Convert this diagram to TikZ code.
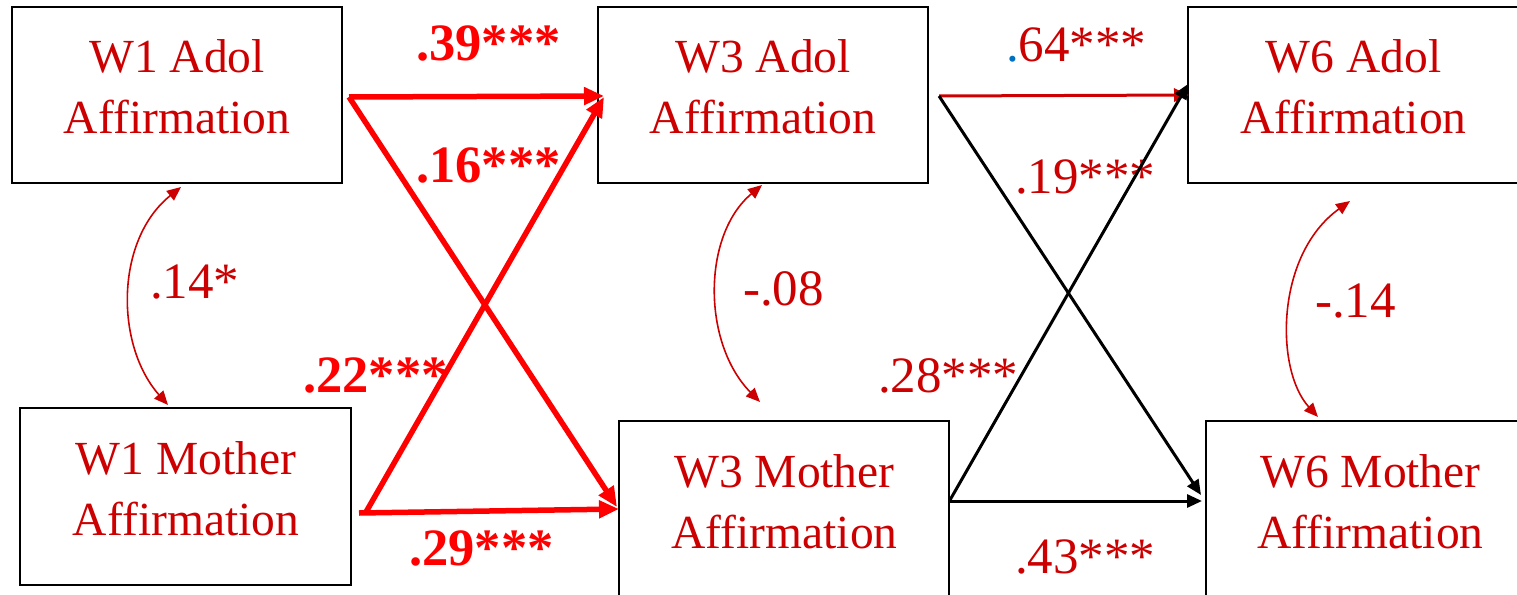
\documentclass[tikz,border=0pt]{standalone}
\usepackage{fontspec}
\setmainfont{Liberation Serif}
\usetikzlibrary{arrows.meta,calc}
\definecolor{tred}{RGB}{204,0,0}
\definecolor{bred}{RGB}{255,0,0}
\definecolor{pblue}{RGB}{0,112,192}
\begin{document}
\begin{tikzpicture}[x=1pt,y=-1pt,
  varbox/.style={draw=black,line width=2pt,rectangle,inner sep=0pt,minimum width=330pt,minimum height=176pt},
  boxtext/.style={text=tred,align=center,inner sep=0pt,font=\fontsize{47.5}{61}\selectfont},
  boldlab/.style={text=bred,anchor=base west,inner sep=0pt,font=\fontsize{52.5}{60}\selectfont\bfseries},
  reglab/.style={text=tred,anchor=base west,inner sep=0pt,font=\fontsize{51}{60}\selectfont},
  thickpath/.style={draw=bred,line width=5.5pt,-{Triangle[length=20pt,width=17pt]}},
  blackpath/.style={draw=black,line width=3pt,-{Triangle[length=15pt,width=13pt]}},
  redpath/.style={draw=tred,line width=3pt,-{Triangle[length=15pt,width=13pt]}},
  covpath/.style={draw=tred,line width=1.6pt,{Triangle[length=14pt,width=12pt]}-{Triangle[length=14pt,width=12pt]}}
]
\useasboundingbox (0,0) rectangle (1517,594);
% boxes
\node[varbox] (w1a) at (177,95) {};
\node[varbox,minimum width=331pt,minimum height=177pt] (w1m) at (185.5,496.5) {};
\node[varbox] (w3a) at (763,95) {};
\node[varbox] (w3m) at (784,509) {};
\node[varbox] (w6a) at (1353,95) {};
\node[varbox] (w6m) at (1371,509) {};
% box texts
\node[boxtext] (t1a) at (177,86.5) {W1 Adol\\Affirmation};
\node[boxtext] (t1m) at (186,489) {W1 Mother\\Affirmation};
\node[boxtext] (t3a) at (763,86.5) {W3 Adol\\Affirmation};
\node[boxtext] (t3m) at (784.5,501.5) {W3 Mother\\Affirmation};
\node[boxtext] (t6a) at (1353.5,86.5) {W6 Adol\\Affirmation};
\node[boxtext] (t6m) at (1370.5,501.5) {W6 Mother\\Affirmation};
% labels
\node[boldlab] (l39) at (416,61) {.39***};
\node[boldlab] (l16) at (416,182) {.16***};
\node[boldlab] (l22) at (303,392) {.22***};
\node[boldlab] (l29) at (409,565) {.29***};
\node[reglab] (l64) at (1006,62) {\textcolor{pblue}{.}64***};
\node[reglab] (l19) at (1015,193) {.19***};
\node[reglab] (l28) at (878,392) {.28***};
\node[reglab] (l43) at (1015,573) {.43***};
\node[reglab] (l14) at (150,298) {.14*};
\node[reglab] (l08) at (743,305) {-.08};
\node[reglab] (l614) at (1315,317) {-.14};
% W1 -> W3 paths
\draw[thickpath] ($(w1a.east)+(6,2)$) -- ($(w3a.west)+(7,1)$);
\draw[thickpath] ($(w1a.east)+(6,2)$) -- ($(w3m.west)+(-1,-2)$);
\draw[thickpath] ($(w1m.east)+(14,15.5)$) -- ($(w3a.west)+(7,2)$);
\draw[thickpath] ($(w1m.east)+(7,16.5)$) -- ($(w3m.west)+(1,0)$);
% W3 -> W6 paths
\draw[redpath] ($(w3a.east)+(10,1)$) -- ($(w6a.west)+(2,0)$);
\draw[blackpath] ($(w3a.east)+(10,1)$) -- ($(w6m.west)+(-4,-14)$);
\draw[blackpath] ($(w3m.east)+(0,-9)$) -- ($(w6a.west)+(1,-11)$);
\draw[blackpath] ($(w3m.east)+(0,-8)$) -- ($(w6m.west)+(-3,-8)$);
% covariances
\draw[covpath] ($(w1m.north)+(-17.5,-2)$) .. controls (115,345) and (115,240) .. ($(w1a.south)+(4,3)$);
\draw[covpath] ($(w3m.north)+(-24,-18)$) .. controls (702,343) and (702,235) .. ($(w3a.south)+(-1,1)$);
\draw[covpath] ($(w6m.north)+(-53,-3)$) .. controls (1275,370) and (1275,255) .. ($(w6a.south)+(-3,17)$);
\end{tikzpicture}
\end{document}
